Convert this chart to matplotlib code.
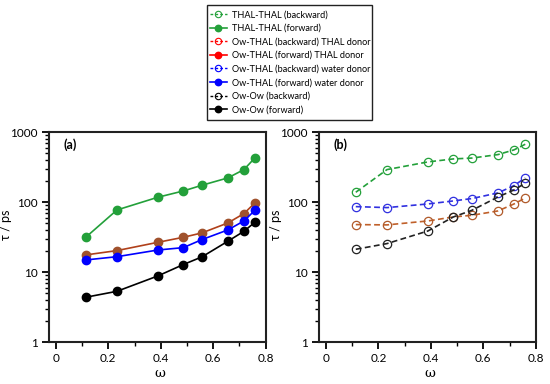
import matplotlib
matplotlib.use("Agg")
import matplotlib.pyplot as plt
from matplotlib.lines import Line2D
from matplotlib.patches import Rectangle
from matplotlib.ticker import FixedLocator, LogLocator, NullFormatter

plt.rcParams['font.family'] = ['Lato', 'DejaVu Sans']

omega = [0.114, 0.233, 0.389, 0.486, 0.557, 0.656, 0.717, 0.760]

# panel (a): forward
thal_thal_fwd = [31.6, 77.6, 118, 145, 175, 223, 293, 435]
ow_thal_thal_donor_fwd = [17.7, 20.4, 26.8, 31.6, 36.5, 50.7, 68.9, 98.9]
ow_thal_water_donor_fwd = [15.0, 16.7, 20.8, 22.5, 29.3, 40.3, 54.1, 77.6]
ow_ow_fwd = [4.40, 5.35, 8.87, 12.9, 16.6, 27.8, 38.5, 52.3]

# panel (b): backward
thal_thal_bwd = [139, 293, 377, 416, 428, 480, 560, 674]
ow_thal_thal_donor_bwd = [48.0, 47.5, 54.1, 61.7, 65.2, 75.2, 94.6, 115]
ow_thal_water_donor_bwd = [86.7, 83.9, 94.6, 104.5, 113, 136, 173, 223]
ow_ow_bwd = [21.3, 25.7, 38.9, 61.7, 76.9, 119, 150, 187]

legend_labels = [
    "THAL-THAL (backward)", "THAL-THAL (forward)",
    "Ow-THAL (backward) THAL donor", "Ow-THAL (forward) THAL donor",
    "Ow-THAL (backward) water donor", "Ow-THAL (forward) water donor",
    "Ow-Ow (backward)", "Ow-Ow (forward)",
]

GREEN = '#23a03a'
RED = '#ff0000'
BROWN = '#a0522d'
BLUE = '#0000ff'
BLACK = '#000000'

W, H = 550, 384
fig = plt.figure(figsize=(5.5, 3.84), dpi=100)
ax1 = fig.add_axes([0.0896, 0.1086, 0.3935, 0.547])
ax2 = fig.add_axes([0.5806, 0.1086, 0.3935, 0.547])

fwd = [(thal_thal_fwd, GREEN, GREEN), (ow_thal_thal_donor_fwd, '#b0401a', BROWN),
       (ow_thal_water_donor_fwd, BLUE, BLUE), (ow_ow_fwd, BLACK, BLACK)]
for ys, lc, mc in fwd:
    ax1.plot(omega, ys, '-', color=lc, lw=1.2, marker='o', ms=6.0,
             mfc=mc, mec=mc, zorder=3)

bwd = [(thal_thal_bwd, GREEN, GREEN), (ow_thal_thal_donor_bwd, '#c0602a', '#b05a2a'),
       (ow_thal_water_donor_bwd, '#3030e0', '#3030e0'), (ow_ow_bwd, '#222222', '#222222')]
for ys, lc, mc in bwd:
    ax2.plot(omega, ys, '--', color=lc, lw=1.2, dashes=(3.5, 2), marker='o', ms=6.0,
             mfc='none', mec=mc, mew=0.9, zorder=3)

for ax, lab in [(ax1, '(a)'), (ax2, '(b)')]:
    ax.set_yscale('log')
    ax.set_ylim(1, 1000)
    ax.set_xlim(-0.025, 0.8)
    ax.xaxis.set_major_locator(FixedLocator([0, 0.2, 0.4, 0.6, 0.8]))
    ax.xaxis.set_minor_locator(FixedLocator([0.1, 0.3, 0.5, 0.7]))
    ax.set_xticklabels(['0', '0.2', '0.4', '0.6', '0.8'])
    ax.yaxis.set_major_locator(FixedLocator([1, 10, 100, 1000]))
    ax.set_yticklabels(['1', '10', '100', '1000'])
    ax.yaxis.set_minor_locator(LogLocator(base=10, subs=range(2, 10)))
    ax.yaxis.set_minor_formatter(NullFormatter())
    ax.tick_params(which='major', direction='out', length=5, width=1.3, labelsize=8.5,
                   top=False, right=False)
    ax.tick_params(axis='x', which='major', pad=3)
    ax.tick_params(which='minor', direction='out', length=3, width=1.0,
                   top=False, right=False)
    for s in ax.spines.values():
        s.set_linewidth(1.5)
        s.set_color('#222222')
    ax.set_xlabel('ω', family='DejaVu Serif', fontsize=9.5)
    ax.xaxis.set_label_coords(0.51, -0.118)
    ax.set_ylabel('τ / ps', fontsize=9)
    ax.yaxis.set_label_coords(-0.172, 0.56)
    ax.text(0.065, 0.94, lab, transform=ax.transAxes, fontsize=9, fontweight='bold',
            va='center', ha='left')

handles = []
for c in [GREEN, RED, BLUE, BLACK]:
    handles.append(Line2D([], [], color=c, ls='--', dashes=(2, 1.5), marker='o', ms=4.6,
                          mfc='none', mec=c, mew=0.8, lw=1.0))
    handles.append(Line2D([], [], color=c, ls='-', marker='o', ms=4.6, mfc=c, mec=c, lw=1.2))

# legend frame
fig.patches.append(Rectangle((207 / W, 1 - 120 / H), (372 - 207) / W, 115 / H,
                             transform=fig.transFigure, fill=False,
                             edgecolor='#222222', lw=1.0))

leg = fig.legend(handles, legend_labels, loc='upper left',
                 bbox_to_anchor=(210 / W, 1 - 10.3 / H), fontsize=6.6,
                 frameon=False, handlelength=1.85, handletextpad=0.5,
                 labelspacing=0.50, borderpad=0, borderaxespad=0)

fig.savefig('out.png', dpi=100)
